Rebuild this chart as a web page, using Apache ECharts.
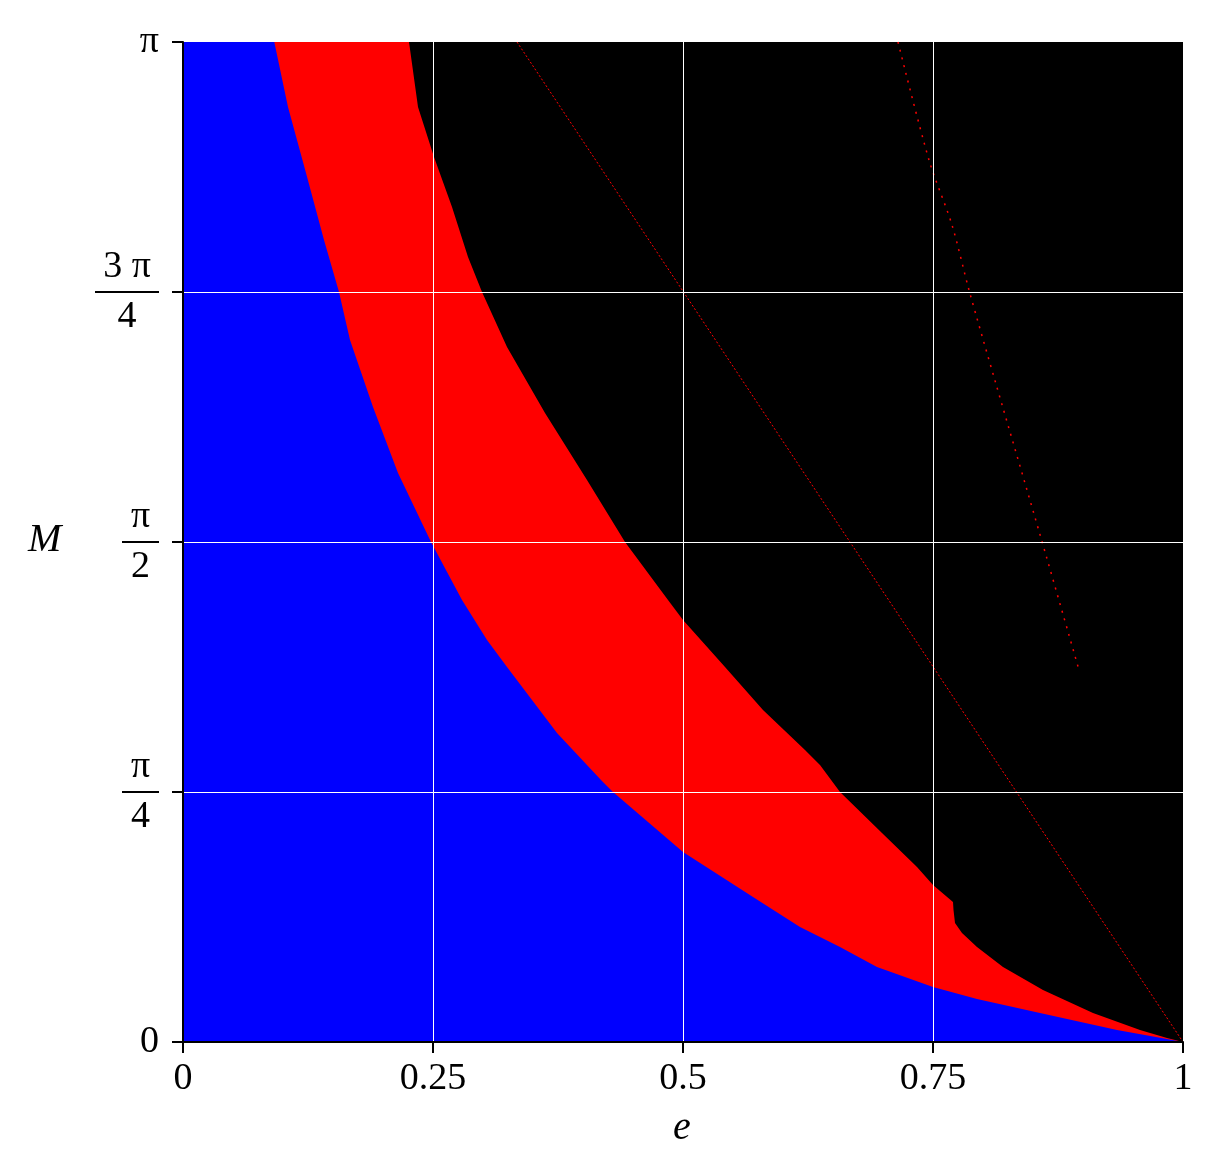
<!DOCTYPE html>
<html>
<head>
<meta charset="utf-8">
<script src="https://cdn.jsdelivr.net/npm/echarts@6/dist/echarts.min.js"></script>
<style>
html,body{margin:0;padding:0;background:#fff;}
#chart{width:1216px;height:1163px;}
</style>
</head>
<body>
<div id="chart"></div>
<script>
// e values (x) and M/π values (y)
const eBlue = [0, 0.0913, 0.105, 0.123, 0.141, 0.156, 0.167, 0.190, 0.215, 0.248, 0.279, 0.304, 0.324, 0.374, 0.418, 0.430, 0.500, 0.570, 0.617, 0.657, 0.694, 0.750, 0.794, 0.857, 0.934, 0.984, 1.0];
const mBlue = [1, 1, 0.935, 0.869, 0.802, 0.75, 0.702, 0.635, 0.569, 0.5, 0.442, 0.402, 0.375, 0.309, 0.262, 0.25, 0.190, 0.145, 0.115, 0.095, 0.075, 0.055, 0.043, 0.029, 0.012, 0.003, 0];

const eRed = [0, 0.226, 0.235, 0.251, 0.269, 0.285, 0.299, 0.324, 0.362, 0.404, 0.442, 0.485, 0.500, 0.542, 0.580, 0.622, 0.637, 0.657, 0.699, 0.734, 0.750, 0.770, 0.7705, 0.772, 0.779, 0.794, 0.820, 0.860, 0.910, 0.957, 0.984, 1.0];
const mRed = [1, 1, 0.935, 0.885, 0.835, 0.785, 0.75, 0.695, 0.629, 0.562, 0.5, 0.442, 0.422, 0.375, 0.332, 0.292, 0.277, 0.25, 0.209, 0.175, 0.157, 0.140, 0.132, 0.119, 0.109, 0.095, 0.075, 0.052, 0.029, 0.012, 0.004, 0];

const eLineA = [0.334, 1.0];
const mLineA = [1.0, 0];

const eLineB = [0.715, 0.746, 0.769, 0.786, 0.813, 0.858, 0.896];
const mLineB = [1.0, 0.882, 0.817, 0.752, 0.658, 0.504, 0.372];

const xTicks = ['0', '0.25', '0.5', '0.75', '1'];
const yTicks = ['0', '{n1|π}\n{b1|}\n{d1|4}', '{n1|π}\n{b1|}\n{d1|2}', '{n3|3 π}\n{b3|}\n{d3|4}', 'π'];

function pairs(xs, ys) { return xs.map((x, i) => [x, ys[i]]); }

const FONT = 'Liberation Serif';
const chart = echarts.init(document.getElementById('chart'), null, {renderer: 'canvas'});
const numStyle = w => ({fontFamily: FONT, fontSize: 38, color: '#000', width: w, align: 'center', lineHeight: 38});
const barStyle = w => ({width: w, height: 2, lineHeight: 12, backgroundColor: '#000'});

chart.setOption({
  animation: false,
  backgroundColor: '#fff',
  grid: {left: 183, top: 42, width: 1000, height: 1000, show: true, backgroundColor: '#000', borderWidth: 0},
  xAxis: {
    type: 'value', min: 0, max: 1, interval: 0.25, z: 10,
    axisLine: {show: true, onZero: false, lineStyle: {color: '#000', width: 2}},
    axisTick: {show: true, length: 11, lineStyle: {color: '#000', width: 2}},
    axisLabel: {fontFamily: FONT, fontSize: 38, color: '#000', margin: 18,
      formatter: v => xTicks[Math.round(v * 4)]},
    splitLine: {show: true, showMinLine: false, showMaxLine: false, lineStyle: {color: '#fff', width: 1}}
  },
  yAxis: {
    type: 'value', min: 0, max: 1, interval: 0.25, z: 10,
    axisLine: {show: true, onZero: false, lineStyle: {color: '#000', width: 2}},
    axisTick: {show: true, length: 11, lineStyle: {color: '#000', width: 2}},
    axisLabel: {fontFamily: FONT, fontSize: 38, color: '#000', margin: 24,
      formatter: v => yTicks[Math.round(v * 4)],
      rich: {
        n1: numStyle(37), b1: barStyle(37), d1: numStyle(37),
        n3: numStyle(64), b3: barStyle(64), d3: numStyle(64)
      }},
    splitLine: {show: true, showMinLine: false, showMaxLine: false, lineStyle: {color: '#fff', width: 1}}
  },
  graphic: [
    {type: 'text', left: 28, top: 520, style: {text: 'M', font: 'italic 40px "Liberation Serif"', fill: '#000'}},
    {type: 'text', left: 673, top: 1108, style: {text: 'e', font: 'italic 40px "Liberation Serif"', fill: '#000'}}
  ],
  series: [
    {type: 'line', data: pairs(eRed, mRed), showSymbol: false, z: 2,
      lineStyle: {width: 0}, areaStyle: {color: '#ff0000', opacity: 1}},
    {type: 'line', data: pairs(eBlue, mBlue), showSymbol: false, z: 3,
      lineStyle: {width: 0}, areaStyle: {color: '#0000ff', opacity: 1}},
    {type: 'line', data: pairs(eLineA, mLineA), showSymbol: false, z: 4,
      lineStyle: {color: '#ff0000', width: 1, type: [2, 2]}},
    {type: 'line', data: pairs(eLineB, mLineB), showSymbol: false, z: 4, smooth: 0.3,
      lineStyle: {color: '#ff0000', width: 1.5, type: [2, 6]}}
  ]
});
</script>
</body>
</html>
